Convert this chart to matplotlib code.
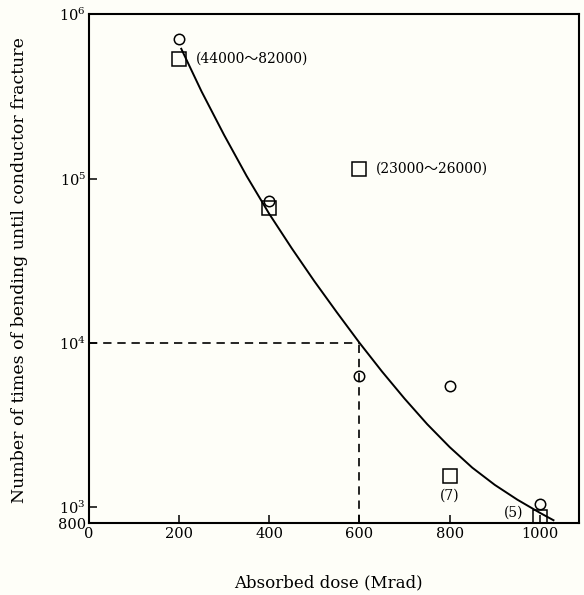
import numpy as np
import matplotlib
matplotlib.use('Agg')
import matplotlib.pyplot as plt
from matplotlib.ticker import FixedLocator, NullLocator

plt.rcParams['font.family'] = ['DejaVu Serif', 'Noto Sans CJK JP']
plt.rcParams['mathtext.fontset'] = 'dejavuserif'

# measured points
dose = [200, 400, 600, 800, 1000]
circle_n = [7.1e5, 7.3e4, 6300, 5450, 1050]
square_n = [5.35e5, 6.6e4, 1.15e5, 1550, 870]
square_notes = ['(44000～82000)', '(23000～26000)', '(7)', '(5)']
note_idx = [0, 2, 3, 4]

# hand drawn trend curve
curve_dose = [205, 250, 300, 350, 400, 450, 500, 550, 600, 650, 700, 750,
              800, 850, 900, 950, 1000, 1030]
curve_logn = [5.79, 5.53, 5.265, 5.015, 4.785, 4.575, 4.375, 4.185, 4.00,
              3.825, 3.66, 3.505, 3.365, 3.24, 3.135, 3.045, 2.965, 2.92]

ref_dose = 600
ref_n = 1e4

xticks = [0, 200, 400, 600, 800, 1000]
yticks = [800, 1e3, 1e4, 1e5, 1e6]
ytick_labels = ['800', r'$10^3$', r'$10^4$', r'$10^5$', r'$10^6$']

bg = '#fefef8'
fig = plt.figure(figsize=(5.84, 5.95), dpi=100, facecolor=bg)
ax = fig.add_axes([0.152, 0.121, 0.839, 0.855], facecolor=bg)

ax.set_yscale('log')
ax.set_xlim(0, 1086)
ax.set_ylim(800, 1e6)

ax.plot(curve_dose, 10 ** np.array(curve_logn), color='black', lw=1.4)
ax.plot([0, ref_dose], [ref_n, ref_n], color='black', lw=1.2, ls=(0, (5, 3.5)))
ax.plot([ref_dose, ref_dose], [800, ref_n], color='black', lw=1.2, ls=(0, (5, 3.5)))

ax.plot(dose, circle_n, 'o', ms=7.5, mfc='none', mec='black', mew=1.1)
ax.plot(dose, square_n, 's', ms=9.5, mfc='none', mec='black', mew=1.1)

offsets = [(12, 0), (12, 0), (0, -14), (-12, 3)]
aligns = [('left', 'center'), ('left', 'center'), ('center', 'center'), ('right', 'center')]
for i, txt, off, al in zip(note_idx, square_notes, offsets, aligns):
    ax.annotate(txt, (dose[i], square_n[i]), xytext=off, textcoords='offset points',
                ha=al[0], va=al[1], fontsize=10)

ax.xaxis.set_major_locator(FixedLocator(xticks))
ax.set_xticklabels([str(t) for t in xticks])
ax.yaxis.set_major_locator(FixedLocator(yticks))
ax.set_yticklabels(ytick_labels)
ax.yaxis.set_minor_locator(NullLocator())
ax.tick_params(direction='in', length=6, width=1.1, labelsize=10.5)
ax.tick_params(axis='x', pad=3)
ax.tick_params(axis='y', pad=2)
for s in ax.spines.values():
    s.set_linewidth(1.5)

ax.set_xlabel('Absorbed dose (Mrad)', fontsize=12)
ax.xaxis.set_label_coords(0.49, -0.1)
ax.set_ylabel('Number of times of bending until conductor fracture', fontsize=12.5)
ax.yaxis.set_label_coords(-0.125, 0.497)

fig.savefig('out.png', dpi=100, facecolor=bg)
